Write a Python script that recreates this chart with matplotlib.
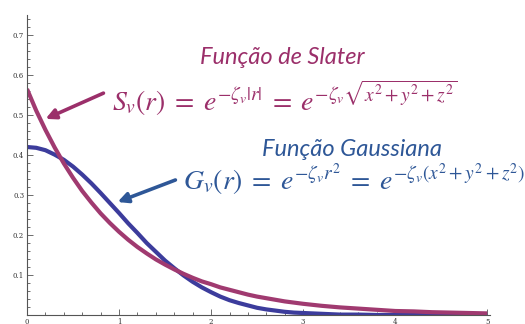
import numpy as np
import matplotlib.pyplot as plt
from matplotlib.ticker import MultipleLocator

# values
r = [0.0, 0.1, 0.2, 0.3, 0.4, 0.5, 0.6, 0.7, 0.8, 0.9, 1.0, 1.1, 1.2, 1.3,
     1.4, 1.5, 1.6, 1.7, 1.8, 1.9, 2.0, 2.1, 2.2, 2.3, 2.4, 2.5, 2.6, 2.7,
     2.8, 2.9, 3.0, 3.2, 3.4, 3.6, 3.8, 4.0, 4.2, 4.4, 4.6, 4.8, 5.0]
slater = [0.565, 0.511, 0.463, 0.419, 0.379, 0.343, 0.310, 0.281, 0.254,
          0.230, 0.208, 0.188, 0.170, 0.154, 0.139, 0.126, 0.114, 0.103,
          0.093, 0.084, 0.077, 0.069, 0.063, 0.057, 0.051, 0.046, 0.042,
          0.038, 0.034, 0.031, 0.028, 0.023, 0.019, 0.016, 0.013, 0.010,
          0.009, 0.007, 0.006, 0.005, 0.004]
gauss = [0.420, 0.418, 0.412, 0.401, 0.388, 0.371, 0.351, 0.329, 0.305,
         0.280, 0.255, 0.229, 0.205, 0.180, 0.158, 0.136, 0.117, 0.099,
         0.083, 0.069, 0.057, 0.046, 0.037, 0.030, 0.024, 0.018, 0.014,
         0.011, 0.008, 0.006, 0.005, 0.003, 0.001, 0.001, 0.0, 0.0,
         0.0, 0.0, 0.0, 0.0, 0.0]

pink = '#a03a70'
blue = '#3c3c9c'
pink_txt = '#9b2f6a'
blue_txt = '#2e5797'

plt.rcParams['mathtext.fontset'] = 'stix'

W, H = 525, 324
fig = plt.figure(figsize=(W / 100, H / 100), dpi=100)
ax = fig.add_axes([27 / W, 1 - 315 / H, (490 - 27) / W, (315 - 15) / H])

ax.plot(r, gauss, color=blue, lw=3.0, solid_capstyle='butt')
ax.plot(r, slater, color=pink, lw=3.0, solid_capstyle='butt')

ax.set_xlim(0, 5.03)
ax.set_ylim(0, 0.75)
ax.spines['top'].set_visible(False)
ax.spines['right'].set_visible(False)
for s in ('left', 'bottom'):
    ax.spines[s].set_color('#555555')
    ax.spines[s].set_linewidth(0.8)

ax.xaxis.set_major_locator(MultipleLocator(1))
ax.xaxis.set_minor_locator(MultipleLocator(0.2))
ax.yaxis.set_major_locator(MultipleLocator(0.1))
ax.yaxis.set_minor_locator(MultipleLocator(0.02))
ax.tick_params(which='both', direction='in', color='#555555', width=0.6)
ax.tick_params(which='major', length=4, labelsize=5, pad=2, labelcolor='#333333')
ax.tick_params(which='minor', length=2)
ax.set_xticks([0, 1, 2, 3, 4, 5])
ax.set_xticklabels(['0', '1', '2', '3', '4', '5'], family='DejaVu Serif')
ax.set_yticks([0.1, 0.2, 0.3, 0.4, 0.5, 0.6, 0.7])
ax.set_yticklabels(['0.1', '0.2', '0.3', '0.4', '0.5', '0.6', '0.7'],
                   family='DejaVu Serif')


def fx(px):
    return px / W


def fy(py):
    return 1 - py / H


fig.text(fx(200), fy(58), 'Função de Slater', color=pink_txt, fontsize=17,
         family='Lato', style='italic', va='center', ha='left')
fig.text(fx(112), fy(98),
         r'$S_v(r)\;=\;e^{-\zeta_v |r|}\;=\;e^{-\zeta_v \sqrt{x^2+y^2+z^2}}$',
         color=pink_txt, fontsize=20, va='center', ha='left')
fig.text(fx(262), fy(149), 'Função Gaussiana', color=blue_txt, fontsize=17,
         family='Lato', style='italic', va='center', ha='left')
fig.text(fx(183), fy(180),
         r'$G_v(r)\;=\;e^{-\zeta_v r^2}\;=\;e^{-\zeta_v (x^2+y^2+z^2)}$',
         color=blue_txt, fontsize=20, va='center', ha='left')

fig.add_artist(plt.Annotation('', xy=(fx(43), fy(120)), xytext=(fx(106), fy(92)),
                              xycoords='figure fraction',
                              arrowprops=dict(arrowstyle='-|>,head_length=0.6,head_width=0.3',
                                              color=pink_txt, lw=2.6)))
fig.add_artist(plt.Annotation('', xy=(fx(115), fy(203)), xytext=(fx(178), fy(179)),
                              xycoords='figure fraction',
                              arrowprops=dict(arrowstyle='-|>,head_length=0.6,head_width=0.3',
                                              color=blue_txt, lw=2.6)))

fig.savefig('out.png', dpi=100)
